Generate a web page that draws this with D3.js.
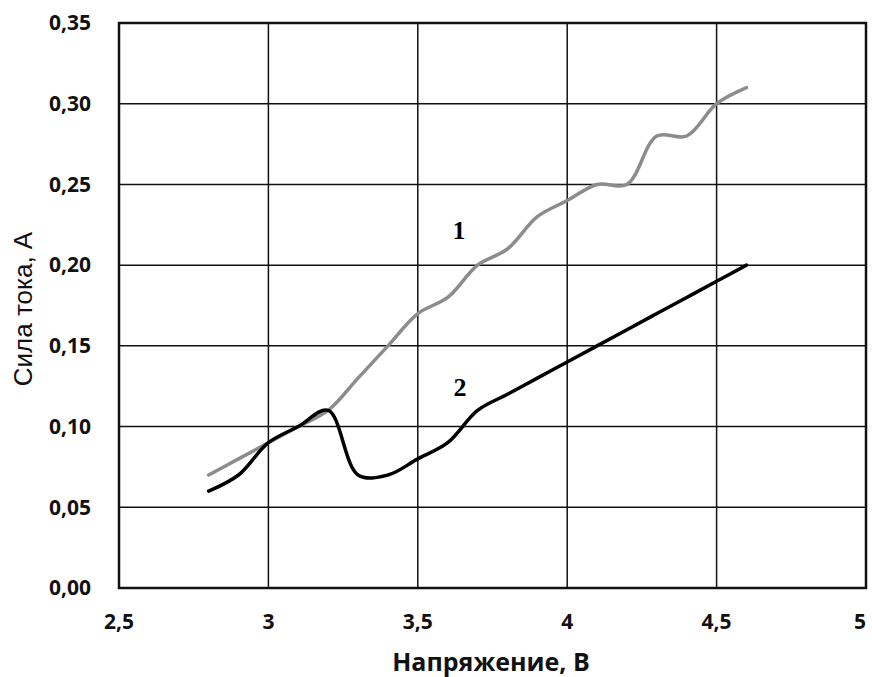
<!DOCTYPE html>
<html>
<head>
<meta charset="utf-8">
<script src="https://cdn.jsdelivr.net/npm/d3@7"></script>
<style>
  body { margin: 0; background: #fff; }
  .tick-label { font-family: "Open Sans", "DejaVu Sans", sans-serif; font-weight: bold; font-size: 21px; fill: #111; }
</style>
</head>
<body>
<svg id="chart" width="872" height="677"></svg>
<script>
// voltage, V
const voltage = [2.8, 2.9, 3.0, 3.1, 3.2, 3.3, 3.4, 3.5, 3.6, 3.7, 3.8, 3.9, 4.0, 4.1, 4.2, 4.3, 4.4, 4.5, 4.6];
// curve 1 (grey)
const current1 = [0.07, 0.08, 0.09, 0.10, 0.11, 0.13, 0.15, 0.17, 0.18, 0.20, 0.21, 0.23, 0.24, 0.25, 0.25, 0.28, 0.28, 0.30, 0.31];
// curve 2 (black)
const current2 = [0.06, 0.07, 0.09, 0.10, 0.11, 0.07, 0.07, 0.08, 0.09, 0.11, 0.12, 0.13, 0.14, 0.15, 0.16, 0.17, 0.18, 0.19, 0.20];

const xTicks = [2.5, 3, 3.5, 4, 4.5, 5];
const yTicks = [0, 0.05, 0.10, 0.15, 0.20, 0.25, 0.30, 0.35];

const svg = d3.select("#chart");
const margin = { left: 119, top: 23, right: 6, bottom: 89 };
const width = 872, height = 677;

const x = d3.scaleLinear().domain([2.5, 5]).range([margin.left, width - margin.right]);
const y = d3.scaleLinear().domain([0, 0.35]).range([height - margin.bottom, margin.top]);

const fmt = (d, n) => d.toFixed(n).replace(".", ",");

// grid lines
svg.append("g")
  .selectAll("line.vg")
  .data(xTicks)
  .enter()
  .append("line")
  .attr("x1", (d) => x(d))
  .attr("x2", (d) => x(d))
  .attr("y1", y(0))
  .attr("y2", y(0.35))
  .attr("stroke", "#111")
  .attr("stroke-width", 1.5);

svg.append("g")
  .selectAll("line.hg")
  .data(yTicks)
  .enter()
  .append("line")
  .attr("x1", x(2.5))
  .attr("x2", x(5))
  .attr("y1", (d) => y(d))
  .attr("y2", (d) => y(d))
  .attr("stroke", "#111")
  .attr("stroke-width", 1.5);

// plot frame
svg.append("rect")
  .attr("x", x(2.5))
  .attr("y", y(0.35))
  .attr("width", x(5) - x(2.5))
  .attr("height", y(0) - y(0.35))
  .attr("fill", "none")
  .attr("stroke", "#111")
  .attr("stroke-width", 2.5);

// tick labels
svg.append("g")
  .selectAll("text")
  .data(yTicks)
  .enter()
  .append("text")
  .attr("class", "tick-label")
  .attr("x", 91)
  .attr("y", (d) => y(d))
  .attr("dy", "0.35em")
  .attr("text-anchor", "end")
  .text((d) => fmt(d, 2));

svg.append("g")
  .selectAll("text")
  .data(xTicks)
  .enter()
  .append("text")
  .attr("class", "tick-label")
  .attr("x", (d, i) => x(d) - (i === xTicks.length - 1 ? 6 : 0))
  .attr("y", 622)
  .attr("dy", "0.35em")
  .attr("text-anchor", "middle")
  .text((d) => (Number.isInteger(d) ? String(d) : fmt(d, 1)));

// axis titles
svg.append("text")
  .attr("x", 491)
  .attr("y", 671)
  .attr("text-anchor", "middle")
  .attr("font-family", "'Open Sans', 'DejaVu Sans', sans-serif")
  .attr("font-weight", "bold")
  .attr("font-size", "25px")
  .attr("fill", "#111")
  .text("Напряжение, В");

svg.append("text")
  .attr("transform", "translate(32, 309) rotate(-90)")
  .attr("text-anchor", "middle")
  .attr("font-family", "'Liberation Sans', Arial, sans-serif")
  .attr("font-size", "26px")
  .attr("fill", "#111")
  .text("Сила тока, А");

// curves
const line = d3.line()
  .x((d) => x(d[0]))
  .y((d) => y(d[1]))
  .curve(d3.curveCatmullRom.alpha(0.5));

svg.append("path")
  .datum(voltage.map((v, i) => [v, current1[i]]))
  .attr("d", line)
  .attr("fill", "none")
  .attr("stroke", "#8c8c8c")
  .attr("stroke-width", 3.5)
  .attr("stroke-linecap", "round");

svg.append("path")
  .datum(voltage.map((v, i) => [v, current2[i]]))
  .attr("d", line)
  .attr("fill", "none")
  .attr("stroke", "#000")
  .attr("stroke-width", 3.5)
  .attr("stroke-linecap", "round");

// curve numbers
svg.append("text")
  .attr("x", 459)
  .attr("y", 239)
  .attr("text-anchor", "middle")
  .attr("font-family", "'Liberation Serif', 'Times New Roman', serif")
  .attr("font-weight", "bold")
  .attr("font-size", "26px")
  .text("1");

svg.append("text")
  .attr("x", 460)
  .attr("y", 396)
  .attr("text-anchor", "middle")
  .attr("font-family", "'Liberation Serif', 'Times New Roman', serif")
  .attr("font-weight", "bold")
  .attr("font-size", "26px")
  .text("2");
</script>
</body>
</html>
